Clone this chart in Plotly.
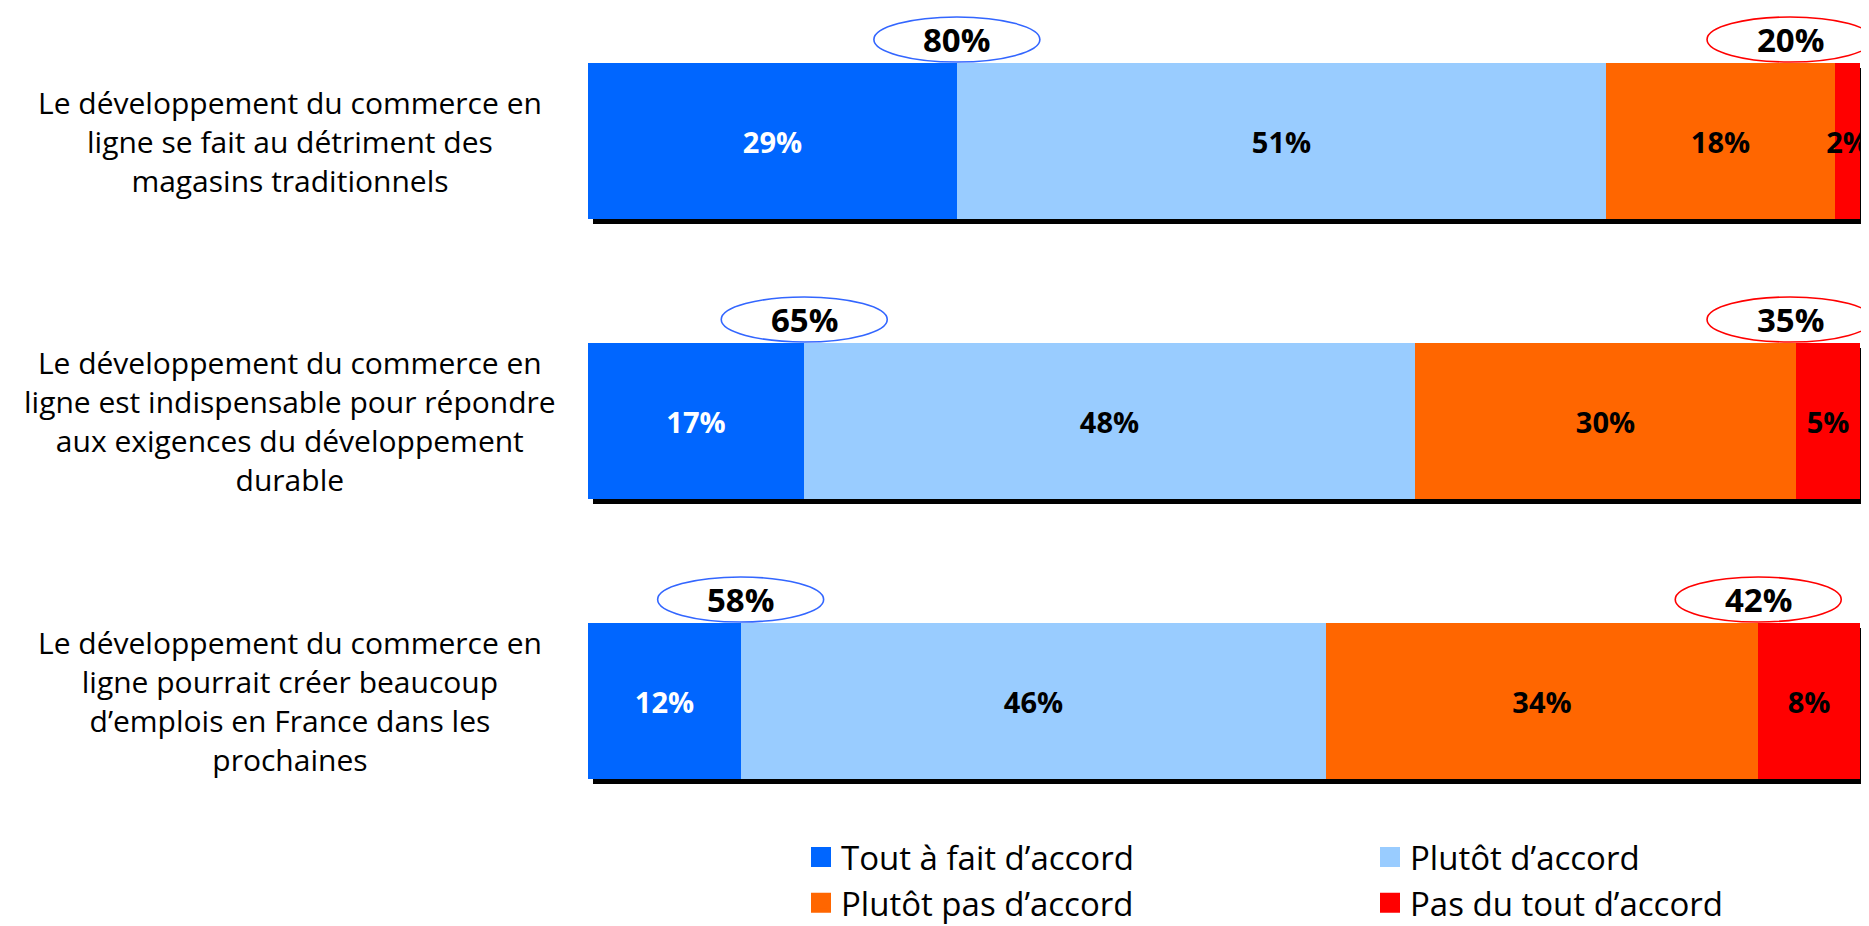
import plotly.graph_objects as go

# ---------------- data ----------------
statements = [
    "Le développement du commerce en<br>ligne se fait au détriment des<br>magasins traditionnels",
    "Le développement du commerce en<br>ligne est indispensable pour répondre<br>aux exigences du développement<br>durable",
    "Le développement du commerce en<br>ligne pourrait créer beaucoup<br>d’emplois en France dans les<br>prochaines",
]
series_names = ["Tout à fait d’accord", "Plutôt d’accord", "Plutôt pas d’accord", "Pas du tout d’accord"]
tout_a_fait = [29, 17, 12]
plutot = [51, 48, 46]
plutot_pas = [18, 30, 34]
pas_du_tout = [2, 5, 8]
total_accord = [80, 65, 58]
total_pas_accord = [20, 35, 42]

# ---------------- styles / geometry ----------------
colors = ["#0066FF", "#99CCFF", "#FF6600", "#FF0000"]
text_colors = ["white", "black", "black", "black"]
FONT = "Open Sans"
BODY = 8                      # default page margin around the figure
W, H = 1869 - BODY, 926 - BODY
PX_X = 12.72                  # pixels per percent point
PX_Y = 280.0                  # pixels per bar slot
M_L, M_R, M_T, M_B = 580, 0, 0, 80
plot_w = W - M_L - M_R
plot_h = H - M_T - M_B
X_MAX = plot_w / PX_X
Y_TOP = -133.0 / PX_Y
Y_BOT = Y_TOP + plot_h / PX_Y
BAR_W = 156.0 / PX_Y
SH = 5  # shadow offset in px

fig = go.Figure()
ypos = list(range(len(statements)))
series = [tout_a_fait, plutot, plutot_pas, pas_du_tout]

for name, vals, col, tc in zip(series_names, series, colors, text_colors):
    fig.add_trace(go.Bar(
        x=vals, y=ypos, orientation="h", name=name, width=BAR_W,
        marker=dict(color=col, line=dict(width=0)),
        text=[f"{v}%" for v in vals], textposition="inside",
        insidetextanchor="middle", textangle=0, constraintext="none",
        textfont=dict(family=FONT, size=29, color=tc, weight="bold"),
        showlegend=False, hoverinfo="skip",
    ))

# legend-only entries
for name, col in zip(series_names, colors):
    fig.add_trace(go.Scatter(
        x=[None], y=[None], mode="markers", name=name,
        marker=dict(symbol="square", size=16, color=col, line=dict(color=col, width=4)),
        showlegend=True, hoverinfo="skip",
    ))

shapes = []
annotations = []
for i, s in enumerate(statements):
    total = tout_a_fait[i] + plutot[i] + plutot_pas[i] + pas_du_tout[i]
    # drop shadow
    shapes.append(dict(
        type="rect", xref="x", yref="y", layer="below",
        x0=SH / PX_X, x1=total + SH / PX_X,
        y0=i - BAR_W / 2 + SH / PX_Y, y1=i + BAR_W / 2 + SH / PX_Y,
        fillcolor="black", line=dict(width=0),
    ))
    top = i - BAR_W / 2
    left_c = tout_a_fait[i]
    right_c = min(total - pas_du_tout[i], 94.5)
    for cx, lc, txt in [(left_c, "#3366FF", f"{total_accord[i]}%"),
                        (right_c, "#FF0000", f"{total_pas_accord[i]}%")]:
        shapes.append(dict(
            type="circle", xref="x", yref="y",
            xsizemode="pixel", ysizemode="pixel",
            xanchor=cx, yanchor=top,
            x0=-83, x1=83, y0=1, y1=46,
            line=dict(color=lc, width=1.6), fillcolor="white", layer="above",
        ))
        annotations.append(dict(
            x=cx, y=top, xref="x", yref="y", text=txt, showarrow=False,
            xanchor="center", yanchor="middle", yshift=24,
            font=dict(family=FONT, size=33, color="black", weight="bold"),
        ))
    annotations.append(dict(
        x=(290 - BODY - M_L) / plot_w, y=i, xref="paper", yref="y", text=s,
        showarrow=False, xanchor="center", yanchor="middle", align="center",
        font=dict(family=FONT, size=30, color="black"),
    ))

fig.update_layout(
    width=W, height=H,
    margin=dict(l=M_L, r=M_R, t=M_T, b=M_B, autoexpand=False),
    paper_bgcolor="white", plot_bgcolor="white",
    barmode="stack", bargap=0,
    xaxis=dict(range=[0, X_MAX], visible=False, fixedrange=True),
    yaxis=dict(range=[Y_BOT, Y_TOP], visible=False, fixedrange=True),
    shapes=shapes, annotations=annotations,
    showlegend=True,
    legend=dict(
        orientation="h", x=(801 - BODY - M_L) / plot_w, xanchor="left",
        yref="container", y=1 - 821 / H, yanchor="top",
        entrywidth=524, entrywidthmode="pixels",
        font=dict(family=FONT, size=33, color="black"),
        bgcolor="rgba(0,0,0,0)", borderwidth=0, traceorder="normal",
    ),
    font=dict(family=FONT),
)

fig.write_html("out.html")
